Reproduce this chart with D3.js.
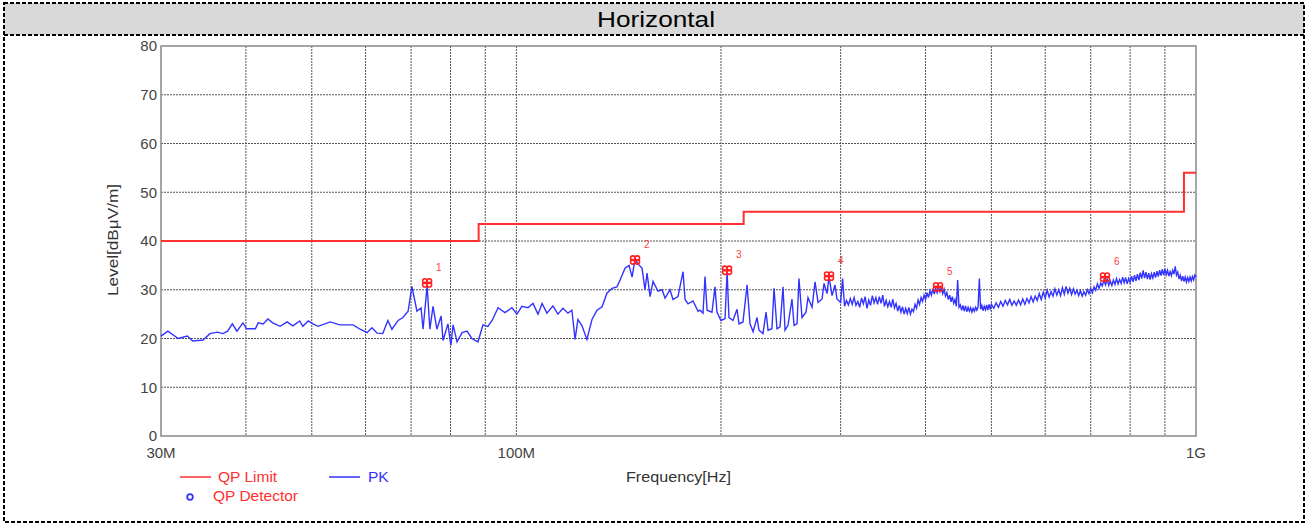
<!DOCTYPE html>
<html>
<head>
<meta charset="utf-8">
<script src="https://cdn.jsdelivr.net/npm/d3@7"></script>
<style>
  body { margin: 0; background: #fff; }
  text { font-family: "Liberation Sans", Arial, sans-serif; }
</style>
</head>
<body>
<script>
/////////////////////////////////////////////////
// data
/////////////////////////////////////////////////
var title = "Horizontal";

// PK trace, frequency in MHz / level in dBuV/m
var pkFreq = [30.0, 30.7, 31.8, 32.8, 33.4, 34.6, 35.4, 36.3, 37.0, 37.6, 38.2, 38.8, 39.6, 40.1, 41.3, 41.7,
  42.4, 43.1, 43.8, 44.9, 46.0, 46.9, 48.0, 48.5, 49.4, 50.2, 51.1, 53.2, 55.0, 57.5, 58.9, 60.3,
  61.3, 62.4, 63.6, 64.7, 65.6, 67.0, 68.1, 69.3, 70.2, 71.4, 72.4, 72.9, 73.9, 74.6, 75.4, 76.4,
  77.5, 78.0, 79.3, 80.1, 80.7, 81.8, 83.2, 84.6, 86.0, 87.8, 89.3, 90.8, 92.1, 94.0, 96.2, 98.5,
  100.2, 101.9, 104.0, 105.8, 107.6, 109.1, 110.9, 113.2, 115.1, 117.1, 119.1, 120.7, 122.0, 123.2,
  124.9, 127.0, 129.2, 131.4, 133.7, 135.9, 138.3, 140.6, 142.1, 144.5, 146.5, 148.0, 149.5, 151.0,
  153.1, 154.6, 155.7, 157.3, 158.9, 161.6, 163.8, 165.5, 168.3, 170.0, 172.9, 175.9, 177.1, 178.9,
  181.9, 185.1, 186.3, 188.2, 189.5, 190.8, 194.0, 196.0, 197.3, 200.0, 202.8, 204.2, 205.5, 208.3,
  211.2, 212.6, 215.5, 218.5, 220.7, 223.0, 226.0, 227.5, 230.6, 233.0, 234.6, 237.7, 239.4, 241.8,
  244.3, 246.8, 248.5, 251.0, 254.4, 256.2, 258.8, 260.5, 263.2, 266.8, 268.6, 272.3, 275.1, 277.9,
  281.7, 283.6, 286.5, 288.4, 291.4, 294.3, 296.3,
  300, 302, 304, 306, 308, 310, 312, 314, 316, 318, 320, 322, 324, 326, 328, 330, 332, 334, 336, 338,
  340, 342, 344, 346, 348, 350, 352, 354, 356, 358, 360, 362, 364, 366, 368, 370, 372, 374, 376, 378,
  380, 382, 384, 386, 388, 390, 392, 394, 396, 398, 400, 402, 404, 406, 408, 410, 412, 414, 416, 418,
  420, 422, 424, 426, 428, 430, 432, 434, 436, 438, 440, 442, 444, 446, 448, 450, 452, 454, 456, 458,
  460, 462, 464, 466, 468, 470, 472, 474, 476, 478, 480, 482, 484, 486, 488, 490, 492, 494, 496, 498,
  500, 504, 508, 512, 516, 520, 524, 528, 532, 536, 540, 544, 548, 552, 556, 560, 564, 568, 572, 576,
  580, 584, 588, 592, 596, 600, 604, 608, 612, 616, 620, 624, 628, 632, 636, 640, 644, 648, 652, 656,
  660, 664, 668, 672, 676, 680, 684, 688, 692, 696, 700, 704, 708, 712, 716, 720, 724, 728, 732, 736,
  740, 744, 748, 752, 756, 760, 764, 768, 772, 776, 780, 784, 788, 792, 796, 800, 804, 808, 812, 816,
  820, 824, 828, 832, 836, 840, 844, 848, 852, 856, 860, 864, 868, 872, 876, 880, 884, 888, 892, 896,
  900, 904, 908, 912, 916, 920, 924, 928, 932, 936, 940, 944, 948, 952, 956, 960, 964, 968, 972, 976,
  980, 984, 988, 992, 996, 1000];
var pkLevel = [20.5, 21.5, 20.0, 20.5, 19.5, 19.7, 21.0, 21.3, 21.0, 21.5, 23.0, 21.5, 23.2, 22.0, 22.0, 23.2,
  23.0, 24.0, 23.2, 22.5, 23.4, 22.6, 23.6, 22.5, 23.6, 23.0, 22.5, 23.4, 22.8, 22.8, 21.9, 21.2,
  22.2, 21.1, 21.0, 23.7, 21.9, 23.7, 24.3, 25.6, 30.7, 25.6, 26.3, 21.9, 30.8, 21.9, 26.6, 21.9,
  24.6, 19.6, 23.0, 18.6, 22.8, 19.3, 21.2, 21.5, 20.0, 19.3, 22.8, 22.5, 23.7, 26.3, 25.3, 26.3,
  25.0, 26.6, 26.3, 27.2, 25.0, 27.2, 25.2, 26.7, 25.0, 26.2, 25.2, 25.8, 19.8, 23.9,
  22.6, 19.8, 23.9, 25.8, 26.5, 29.3, 30.3, 30.6, 32.0, 34.4, 35.0, 32.6, 36.3, 35.3,
  34.4, 30.0, 33.4, 28.6, 31.7, 29.7, 30.0, 28.3, 30.0, 28.0, 28.6, 33.7, 28.0, 27.1,
  27.7, 25.6, 25.8, 25.2, 32.7, 25.8, 25.4, 30.6, 25.4, 23.7, 24.1, 33.7, 24.3, 23.7,
  26.0, 23.0, 23.4, 31.0, 23.0, 21.4, 24.3, 21.7, 21.0, 25.4, 21.7, 22.0, 30.3, 22.0,
  22.4, 30.6, 21.7, 22.7, 28.1, 22.7, 23.0, 32.3, 24.3, 25.4, 28.4, 26.4, 31.6, 27.4,
  28.1, 31.3, 29.2, 32.7, 28.8, 31.0, 28.1,
  27.4, 32.3, 26.6, 27.8, 26.9, 28.2, 27.0, 28.4, 26.8, 27.6, 26.4, 28.3, 27.1, 28.6, 26.2, 27.9, 26.8, 28.8, 27.3, 28.4,
  27.0, 28.6, 27.2, 28.9, 26.6, 27.8, 26.5, 27.6, 26.4, 28.1, 26.3, 27.2, 25.6, 26.8, 25.4, 26.5, 25.0, 26.2, 25.1, 26.4,
  25.0, 26.0, 25.5, 27.0, 26.2, 27.9, 27.0, 28.4, 27.6, 28.9, 28.0, 29.4, 28.4, 29.8, 28.9, 30.2, 29.1, 30.3, 29.4, 30.6,
  29.6, 30.4, 29.2, 30.1, 28.7, 29.4, 28.0, 28.9, 27.5, 28.6, 27.2, 28.0, 26.6, 32.0, 26.4, 26.9, 25.8, 26.8, 25.6, 26.7,
  25.5, 26.4, 25.6, 26.3, 25.4, 26.2, 25.6, 26.4, 25.8, 26.6, 32.3, 26.0, 26.8, 25.7, 26.6, 25.9, 26.9, 25.8, 27.0, 26.1,
  27.0, 26.2, 27.3, 26.4, 27.6, 26.6, 27.8, 26.9, 28.0, 26.8, 27.7, 26.8, 27.9, 26.9, 28.1, 27.0, 28.2, 27.3, 28.6, 27.5,
  28.7, 27.8, 29.2, 28.0, 29.5, 28.3, 29.9, 28.5, 29.6, 28.7, 30.2, 28.9, 30.0, 28.8, 30.4, 29.1, 30.7, 29.3, 30.3, 29.0,
  30.2, 29.1, 29.9, 28.8, 29.8, 28.7, 29.6, 28.9, 30.0, 29.2, 30.3, 29.4, 30.6, 29.9, 31.2, 30.3, 31.4, 30.8, 32.0, 31.0,
  32.2, 30.9, 31.8, 30.9, 32.0, 31.1, 32.3, 31.2, 32.1, 31.3, 32.6, 31.4, 32.5, 31.2, 32.3, 31.5, 32.8, 31.6, 33.0, 31.8,
  33.2, 32.0, 33.5, 32.3, 34.0, 32.4, 33.6, 32.2, 33.4, 32.1, 33.3, 32.4, 33.6, 32.5, 33.8, 32.7, 34.0, 32.9, 34.2, 33.0,
  34.3, 33.1, 34.0, 32.8, 33.7, 32.9, 34.0, 33.2, 34.8, 33.0, 33.6, 32.2, 33.0, 31.8, 32.8, 31.7, 32.6, 31.6, 32.5, 31.7,
  32.6, 31.8, 32.7, 32.0, 33.0, 32.6];

// QP limit steps
var limitFreq  = [30, 88, 88, 216, 216, 960, 960, 1000];
var limitLevel = [40, 40, 43.5, 43.5, 46, 46, 54, 54];

// QP detector markers
var markerFreq  = [73.9, 149.5, 204.2, 288.4, 417.3, 734.7];
var markerLevel = [31.4, 36.1, 34.0, 32.8, 30.6, 32.6];

var yTicks = [0, 10, 20, 30, 40, 50, 60, 70, 80];
var xGrid  = [40, 50, 60, 70, 80, 90, 100, 200, 300, 400, 500, 600, 700, 800, 900];
var xLabels = [[30, "30M"], [100, "100M"], [1000, "1G"]];

/////////////////////////////////////////////////
// locals
/////////////////////////////////////////////////
var width  = 1310,
    height = 524;
var pLeft = 161, pRight = 1196, pTop = 46, pBottom = 436;

var svg = d3.select("body").append("svg")
    .attr("width", width)
    .attr("height", height);

var x = d3.scaleLog().domain([30, 1000]).range([pLeft, pRight]);
var y = d3.scaleLinear().domain([0, 80]).range([pBottom, pTop]);

// outer frame and title band
svg.append("rect")
  .attr("x", 4).attr("y", 3).attr("width", 1300).attr("height", 32)
  .style("fill", "#d9d9d9");
svg.append("rect")
  .attr("x", 4).attr("y", 3).attr("width", 1300).attr("height", 519)
  .style("fill", "none").style("stroke", "#000")
  .style("stroke-width", 2).style("stroke-dasharray", "4,2");
svg.append("line")
  .attr("x1", 4).attr("x2", 1304).attr("y1", 35).attr("y2", 35)
  .style("stroke", "#000").style("stroke-width", 2).style("stroke-dasharray", "4,2");
svg.append("text")
  .attr("x", 597).attr("y", 27)
  .attr("textLength", 118).attr("lengthAdjust", "spacingAndGlyphs")
  .style("font-size", "22px")
  .text(title);

// grid
svg.append("g").selectAll("line").data(yTicks.slice(1, -1)).enter().append("line")
  .attr("x1", pLeft).attr("x2", pRight)
  .attr("y1", function(d) { return y(d); }).attr("y2", function(d) { return y(d); })
  .style("stroke", "#555").style("stroke-dasharray", "2,1");
svg.append("g").selectAll("line").data(xGrid).enter().append("line")
  .attr("y1", pTop).attr("y2", pBottom)
  .attr("x1", function(d) { return x(d); }).attr("x2", function(d) { return x(d); })
  .style("stroke", "#555").style("stroke-dasharray", "2,1");

// plot frame
svg.append("rect")
  .attr("x", pLeft).attr("y", pTop).attr("width", pRight - pLeft).attr("height", pBottom - pTop)
  .style("fill", "none").style("stroke", "#888").style("stroke-width", 1.5);

// tick labels
svg.append("g").selectAll("text").data(yTicks).enter().append("text")
  .attr("x", pLeft - 4).attr("y", function(d) { return y(d); })
  .attr("dy", ".35em").attr("text-anchor", "end")
  .style("font-size", "15px").style("fill", "#444")
  .text(function(d) { return d; });
svg.append("g").selectAll("text").data(xLabels).enter().append("text")
  .attr("x", function(d) { return x(d[0]); }).attr("y", 458)
  .attr("text-anchor", "middle")
  .style("font-size", "15px").style("fill", "#444")
  .text(function(d) { return d[1]; });

// axis titles
svg.append("text")
  .attr("transform", "translate(118,296) rotate(-90)")
  .attr("textLength", 112).attr("lengthAdjust", "spacingAndGlyphs")
  .style("font-size", "14px").style("fill", "#333")
  .text("Level[dBμV/m]");
svg.append("text")
  .attr("x", 626).attr("y", 482)
  .attr("textLength", 105).attr("lengthAdjust", "spacingAndGlyphs")
  .style("font-size", "15px").style("fill", "#333")
  .text("Frequency[Hz]");

// limit line
var limitData = limitFreq.map(function(f, i) { return [f, limitLevel[i]]; });
svg.append("path")
  .datum(limitData)
  .attr("d", d3.line().x(function(d) { return x(d[0]); }).y(function(d) { return y(d[1]); }))
  .style("fill", "none").style("stroke", "#ff3030").style("stroke-width", 2);

// PK trace
var pkData = pkFreq.map(function(f, i) { return [f, pkLevel[i]]; });
svg.append("path")
  .datum(pkData)
  .attr("d", d3.line().x(function(d) { return x(d[0]); }).y(function(d) { return y(d[1]); }))
  .style("fill", "none").style("stroke", "#3333ff").style("stroke-width", 1.4);

// markers
var offs = [[-2.2, -1.8], [2.2, -1.8], [-2.2, 1.8], [2.2, 1.8]];
var markers = svg.append("g").selectAll("g")
  .data(markerFreq.map(function(f, i) { return [f, markerLevel[i], i + 1]; }))
  .enter().append("g")
  .attr("transform", function(d) { return "translate(" + x(d[0]) + "," + y(d[1]) + ")"; });
markers.each(function() {
  var g = d3.select(this);
  offs.forEach(function(o) {
    g.append("circle").attr("cx", o[0]).attr("cy", o[1]).attr("r", 2.3)
      .style("fill", "none").style("stroke", "#ff2020").style("stroke-width", 1.6);
  });
});
markers.append("text")
  .attr("x", 9).attr("y", -12)
  .style("font-size", "10px").style("fill", "#ff4040")
  .text(function(d) { return d[2]; });

// legend
svg.append("line").attr("x1", 180).attr("x2", 211).attr("y1", 477).attr("y2", 477)
  .style("stroke", "#ff3030").style("stroke-width", 1.5);
svg.append("text").attr("x", 218).attr("y", 482)
  .style("font-size", "15.5px").style("fill", "#ff3030").text("QP Limit");
svg.append("line").attr("x1", 329).attr("x2", 360).attr("y1", 477).attr("y2", 477)
  .style("stroke", "#3333ff").style("stroke-width", 1.5);
svg.append("text").attr("x", 368).attr("y", 482)
  .style("font-size", "15.5px").style("fill", "#3333ff").text("PK");
svg.append("circle").attr("cx", 190).attr("cy", 497).attr("r", 2.8)
  .style("fill", "none").style("stroke", "#3333ff").style("stroke-width", 1.8);
svg.append("text").attr("x", 213).attr("y", 501)
  .style("font-size", "15.5px").style("fill", "#ff3030").text("QP Detector");
</script>
</body>
</html>
